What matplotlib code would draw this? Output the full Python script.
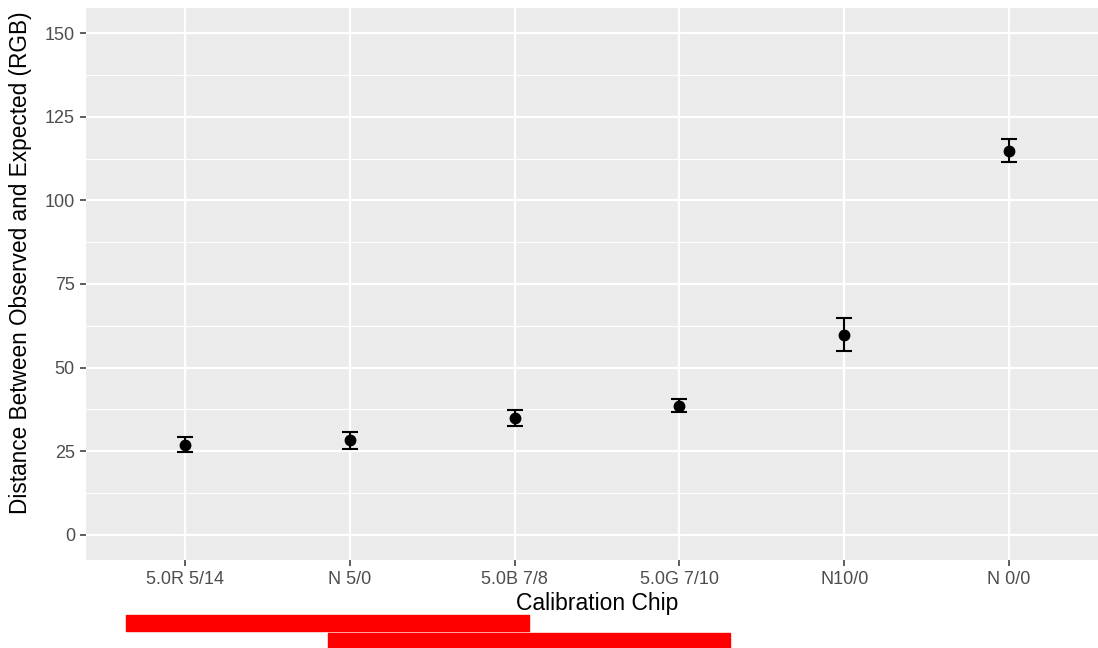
import numpy as np
import matplotlib.pyplot as plt
from matplotlib.patches import Rectangle

plt.rcParams['font.family'] = ['Liberation Sans', 'DejaVu Sans']

# data
chips = ['5.0R 5/14', 'N 5/0', '5.0B 7/8', '5.0G 7/10', 'N10/0', 'N 0/0']
dist = [26.8, 28.3, 34.9, 38.6, 59.9, 114.8]
err_lo = [24.8, 25.6, 32.6, 36.7, 55.0, 111.5]
err_hi = [29.2, 30.7, 37.2, 40.6, 64.9, 118.2]

W, H = 1098, 648
fig = plt.figure(figsize=(W / 100, H / 100), dpi=100)
# panel spans x 86..1108 (cropped at right), y 8..560
ax = fig.add_axes([86 / W, 1 - 560 / H, (1108 - 86) / W, (560 - 8) / H])

x = np.arange(1, len(chips) + 1)
d = np.array(dist)
yerr = [d - np.array(err_lo), np.array(err_hi) - d]

ax.set_facecolor('#EBEBEB')
for s in ax.spines.values():
    s.set_visible(False)

ax.errorbar(x, d, yerr=yerr, fmt='o', color='black', ms=7.5, elinewidth=1.5,
            capsize=6, capthick=1.5, zorder=3)

ax.set_xlim(0.4, 6.6)
ax.set_ylim(-7.5, 157.5)
ax.set_xticks(x)
ax.set_xticklabels(chips)
ax.set_yticks([0, 25, 50, 75, 100, 125, 150])
ax.set_yticks([12.5, 37.5, 62.5, 87.5, 112.5, 137.5], minor=True)
ax.grid(which='major', color='white', lw=1.6)
ax.grid(which='minor', axis='y', color='white', lw=0.8)
ax.set_axisbelow(True)
ax.tick_params(which='major', length=4, width=1.1, color='#333333',
               labelcolor='#4D4D4D', labelsize=13, pad=4)
ax.tick_params(which='minor', length=0)

ax.set_xlabel('Calibration Chip', fontsize=16.5, labelpad=3)
ax.set_ylabel('Distance Between Observed and Expected (RGB)', fontsize=16.3)
ax.yaxis.set_label_coords(-0.053, 0.538)

# red redaction bars under the x label
fig.patches.append(Rectangle((126 / W, 1 - 631 / H), (529 - 126) / W, 16 / H,
                             transform=fig.transFigure, color='#FF0000'))
fig.patches.append(Rectangle((328 / W, 1 - 648 / H), (730 - 328) / W, 15 / H,
                             transform=fig.transFigure, color='#FF0000'))

fig.savefig('out.png', dpi=100)
